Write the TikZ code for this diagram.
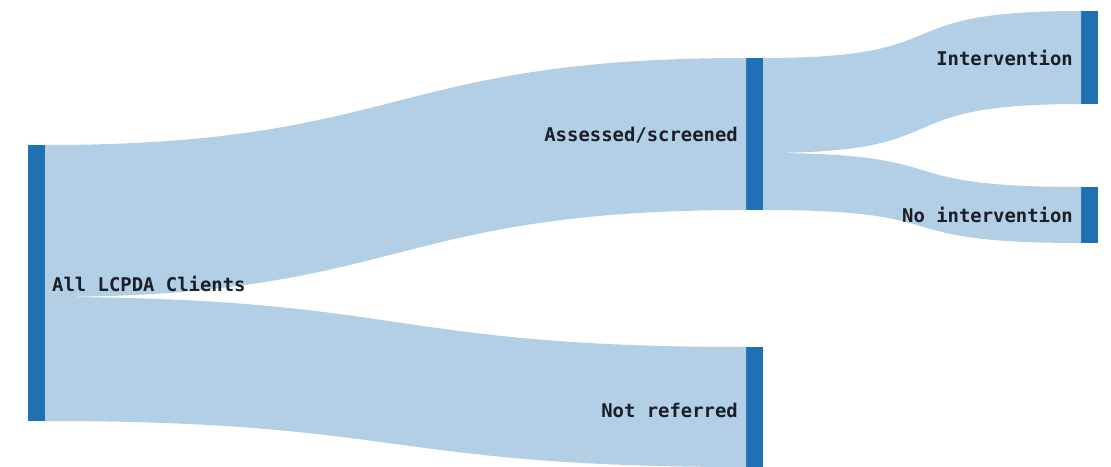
\documentclass[tikz,border=0pt]{standalone}
\usepackage{fontspec}
\setmonofont{DejaVu Sans Mono}
\usetikzlibrary{calc}
\definecolor{barblue}{RGB}{31,113,180}
\definecolor{flowblue}{RGB}{178,207,230}
\definecolor{txtdark}{RGB}{25,30,40}
\begin{document}
\begin{tikzpicture}[x=1pt,y=-1pt,line join=round]
				\tikzset{bar/.style={fill=barblue,inner sep=0pt,outer sep=0pt,minimum width=17pt,anchor=north west},
					flow/.style={fill=flowblue},
					lbl/.style={font=\ttfamily\bfseries\fontsize{18.9}{20}\selectfont,text=txtdark,inner sep=0pt}}
				\useasboundingbox (0,0) rectangle (1111,466);
				% nodes
				\node[bar,minimum height=276pt] (all) at (28,145) {};
				\node[bar,minimum height=152pt] (asm) at (746,58) {};
				\node[bar,minimum height=120pt] (notref) at (746,347) {};
				\node[bar,minimum height=93pt] (interv) at (1081,11) {};
				\node[bar,minimum height=56pt] (nointerv) at (1081,187) {};
				\coordinate (allsplit) at ($(all.north east)+(0,152)$);
				\coordinate (asmsplit) at ($(asm.north east)+(0,95)$);
				% flows
				\fill[flow] (all.north east) .. controls +(360,0) and +(-360,0) .. (asm.north west)
					-- (asm.south west) .. controls +(-360,0) and +(360,0) .. (allsplit) -- cycle;
				\fill[flow] (allsplit) .. controls +(360,0) and +(-360,0) .. (notref.north west)
					-- (notref.south west) .. controls +(-360,0) and +(360,0) .. (all.south east) -- cycle;
				\fill[flow] (asm.north east) .. controls +(205,0) and +(-205,0) .. (interv.north west)
					-- (interv.south west) .. controls +(-205,0) and +(205,0) .. (asmsplit) -- cycle;
				\fill[flow] (asmsplit) .. controls +(205,0) and +(-205,0) .. (nointerv.north west)
					-- (nointerv.south west) .. controls +(-205,0) and +(205,0) .. (asm.south east) -- cycle;
				% labels
				\node[lbl,anchor=west] (allL) at (52,284) {All LCPDA Clients};
				\node[lbl,anchor=east] (asmL) at (738,135) {Assessed/screened};
				\node[lbl,anchor=east] (notrefL) at (738,410) {Not referred};
				\node[lbl,anchor=east] (intervL) at (1073,58) {Intervention};
				\node[lbl,anchor=east] (nointervL) at (1073,215) {No intervention};
			\end{tikzpicture}
\end{document}
